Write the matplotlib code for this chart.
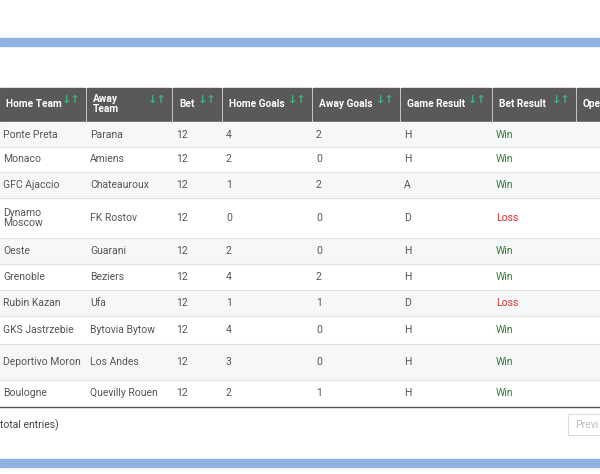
import matplotlib.pyplot as plt
from matplotlib.patches import Rectangle

headers = ["Home Team", "Away\nTeam", "Bet", "Home Goals", "Away Goals", "Game Result", "Bet Result", "Ope"]
home = ["Ponte Preta", "Monaco", "GFC Ajaccio", "Dynamo\nMoscow", "Oeste", "Grenoble",
        "Rubin Kazan", "GKS Jastrzebie", "Deportivo Moron", "Boulogne"]
away = ["Parana", "Amiens", "Chateauroux", "FK Rostov", "Guarani", "Beziers",
        "Ufa", "Bytovia Bytow", "Los Andes", "Quevilly Rouen"]
bet = [12] * 10
home_goals = [4, 2, 1, 0, 2, 4, 1, 4, 3, 2]
away_goals = [2, 0, 2, 0, 0, 2, 1, 0, 0, 1]
game_result = ["H", "H", "A", "D", "H", "H", "D", "H", "H", "H"]
bet_result = ["Win", "Win", "Win", "Loss", "Win", "Win", "Loss", "Win", "Win", "Win"]

col_x = [0, 87, 173, 223, 313, 401, 493, 577, 620]
row_y = [122, 147, 172, 198, 238, 264, 290, 316, 344, 380, 407]

fig = plt.figure(figsize=(6, 4.74), dpi=100)
ax = fig.add_axes([0, 0, 1, 1])
ax.set_xlim(0, 600)
ax.set_ylim(474, 0)
ax.axis("off")
plt.rcParams["font.family"] = ["Roboto", "DejaVu Sans"]

# blue bands
ax.add_patch(Rectangle((0, 38), 600, 8, color="#8fb4e0"))
ax.add_patch(Rectangle((0, 459), 600, 8, color="#8fb4e0"))

# header
for i, h in enumerate(headers):
    x0, x1 = col_x[i], col_x[i + 1] - 2
    ax.add_patch(Rectangle((x0, 88), x1 - x0, 34, color="#595959"))
    ax.text(x0 + 6, 104, h, color="white", fontsize=7.3, fontweight="bold",
            va="center", ha="left", linespacing=0.95)
    if i < 7:
        ax.text(x1 - 4, 100, "↓↑", color="#3fb27f", fontsize=8, fontweight="bold",
                va="center", ha="right", family=["DejaVu Sans"])

# rows
for r in range(10):
    y0, y1 = row_y[r], row_y[r + 1]
    if r % 2 == 0:
        ax.add_patch(Rectangle((0, y0), 600, y1 - y0, color="#f6f7f9"))
    ax.plot([0, 600], [y1, y1], color="#e3e3e3", lw=0.8)
    yc = (y0 + y1) / 2
    vals = [home[r], away[r], str(bet[r]), str(home_goals[r]), str(away_goals[r]),
            game_result[r], bet_result[r]]
    for c, v in enumerate(vals):
        color = "#555555"
        if c == 6:
            color = "#2e7d32" if v == "Win" else "#d32f2f"
        ax.text(col_x[c] + 3, yc, v, color=color, fontsize=7.5, va="center",
                ha="left", linespacing=1.1)

ax.plot([0, 600], [407, 407], color="#555555", lw=1)

ax.text(0, 425, "total entries)", color="#444444", fontsize=7.5, va="center", ha="left")
ax.add_patch(Rectangle((568, 414), 40, 21, facecolor="white", edgecolor="#dddddd", lw=0.8))
ax.text(575, 425, "Previ", color="#bbbbbb", fontsize=7.5, va="center", ha="left")

fig.savefig("out.png", dpi=100)
